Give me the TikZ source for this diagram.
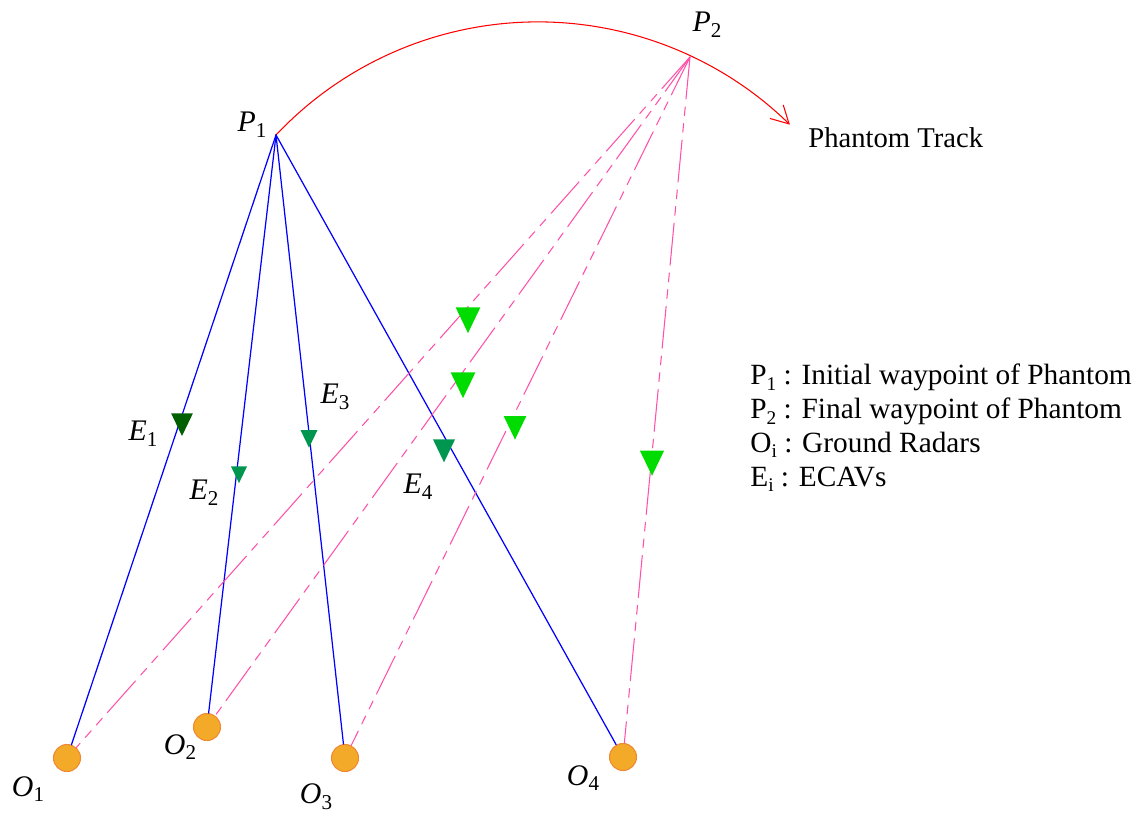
\documentclass[tikz,border=0pt]{standalone}
\usepackage{fontspec}
\setmainfont{Liberation Serif}
\usepackage{tikz}
\usetikzlibrary{arrows.meta,shapes.geometric}
\definecolor{radarorange}{RGB}{242,170,40}
\definecolor{radaredge}{RGB}{240,135,50}
\definecolor{trackpink}{RGB}{255,80,170}
\definecolor{ecavdark}{RGB}{0,95,0}
\definecolor{ecavteal}{RGB}{0,150,80}
\definecolor{ecavlight}{RGB}{0,220,0}
\newcommand{\itlbl}[2]{{\fontsize{17}{17}\selectfont\itshape #1}\raisebox{-0.7ex}{\fontsize{12}{12}\selectfont #2}}
\newcommand{\legsub}[2]{#1\raisebox{-0.4ex}{\fontsize{11}{11}\selectfont #2}}

\begin{document}
\begin{tikzpicture}[line cap=round,
  radar/.style={circle,fill=radarorange,draw=radaredge,line width=0.6pt,minimum size=0.54cm,inner sep=0pt},
  ecav/.style={regular polygon,regular polygon sides=3,shape border rotate=180,inner sep=0pt,yscale=1.2},
  los/.style={blue,line width=0.7pt},
  fake/.style={trackpink,line width=0.6pt,dash pattern=on 24pt off 4.5pt on 5pt off 4.5pt on 5pt off 4.5pt},
  lbl/.style={inner sep=0pt}]
\useasboundingbox (0,0) rectangle (22.9,16.28);
% waypoints and radars
\coordinate (p1) at (5.52,13.58);
\coordinate (p2) at (13.80,15.14);
\node[radar] (o1) at (1.34,1.12) {};
\node[radar] (o2) at (4.14,1.74) {};
\node[radar] (o3) at (6.90,1.12) {};
\node[radar] (o4) at (12.46,1.14) {};
% phantom track
\draw[red,line width=0.6pt,-{Straight Barb[length=3.5mm,width=3.8mm]}] (p1) arc[start angle=136.7,end angle=45.6,radius=7.2] coordinate (trackend);
\node[anchor=west,lbl,font=\fontsize{16.3}{18}\selectfont] (track) at (16.16,13.52) {Phantom Track};
% lines of sight
\draw[los] (p1) -- (o1);
\draw[los] (p1) -- (o2);
\draw[los] (p1) -- (o3);
\draw[los] (p1) -- (o4);
\draw[fake] (p2) -- (o1);
\draw[fake] (p2) -- (o2);
\draw[fake] (p2) -- (o3);
\draw[fake] (p2) -- (o4);
% ECAVs
\node[ecav,fill=ecavdark,minimum size=0.5cm] (e1) at (3.64,7.86) {};
\node[ecav,fill=ecavteal,minimum size=0.37cm] (e2) at (4.78,6.84) {};
\node[ecav,fill=ecavteal,minimum size=0.39cm] (e3) at (6.18,7.56) {};
\node[ecav,fill=ecavteal,minimum size=0.51cm] (e4) at (8.88,7.34) {};
\node[ecav,fill=ecavlight,minimum size=0.57cm] (g1) at (9.36,9.96) {};
\node[ecav,fill=ecavlight,minimum size=0.57cm] (g2) at (9.26,8.66) {};
\node[ecav,fill=ecavlight,minimum size=0.52cm] (g3) at (10.30,7.80) {};
\node[ecav,fill=ecavlight,minimum size=0.56cm] (g4) at (13.04,7.10) {};
% labels
\node[lbl] (p1lbl) at (5.04,13.78) {\itlbl{P}{1}};
\node[lbl] (p2lbl) at (14.14,15.78) {\itlbl{P}{2}};
\node[lbl] (e1lbl) at (2.86,7.60) {\itlbl{E}{1}};
\node[lbl] (e2lbl) at (4.08,6.42) {\itlbl{E}{2}};
\node[lbl] (e3lbl) at (6.70,8.34) {\itlbl{E}{3}};
\node[lbl] (e4lbl) at (8.36,6.54) {\itlbl{E}{4}};
\node[lbl] (o1lbl) at (0.56,0.50) {\itlbl{O}{1}};
\node[lbl] (o2lbl) at (3.60,1.34) {\itlbl{O}{2}};
\node[lbl] (o3lbl) at (6.32,0.34) {\itlbl{O}{3}};
\node[lbl] (o4lbl) at (11.66,0.72) {\itlbl{O}{4}};
% legend
\node[lbl,anchor=west,align=left,font=\fontsize{16.7}{19.3}\selectfont] (legend) at (15.0,7.72)
  {\legsub{P}{1} : Initial waypoint of Phantom\\
   \legsub{P}{2} : Final waypoint of Phantom\\
   \legsub{O}{i} : Ground Radars\\
   \legsub{E}{i} : ECAVs};
\end{tikzpicture}
\end{document}
